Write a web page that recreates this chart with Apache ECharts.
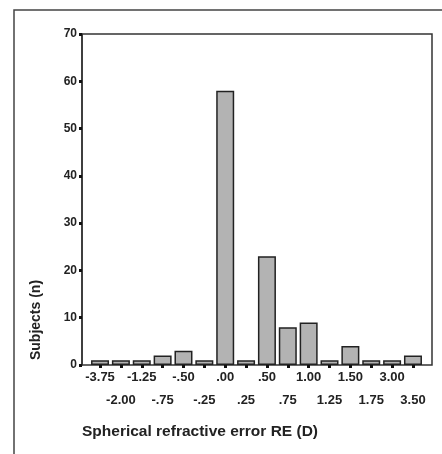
<!DOCTYPE html>
<html>
<head>
<meta charset="utf-8">
<script src="https://cdn.jsdelivr.net/npm/echarts@6/dist/echarts.min.js"></script>
<style>
  html, body { margin: 0; padding: 0; background: #fff; }
  #chart { width: 442px; height: 454px; }
</style>
</head>
<body>
<div id="chart"></div>
<script>
// 屈光度分组与人数
const categories = ['-3.75', '-2.00', '-1.25', '-.75', '-.50', '-.25', '.00', '.25',
  '.50', '.75', '1.00', '1.25', '1.50', '1.75', '3.00', '3.50'];
const subjects = [1, 1, 1, 2, 3, 1, 58, 1, 23, 8, 9, 1, 4, 1, 1, 2];
const yTicks = [0, 10, 20, 30, 40, 50, 60, 70];

const font = 'Liberation Sans, Arial, sans-serif';
const chart = echarts.init(document.getElementById('chart'), null, { renderer: 'canvas' });

const option = {
  animation: false,
  backgroundColor: '#fff',
  grid: [
    // 外框 + y 轴
    { left: 82, right: 10, top: 34, bottom: 89, show: true, borderColor: '#333', borderWidth: 1.5 },
    // 柱子区域（两侧留白）
    { left: 89.6, right: 18.6, top: 34, bottom: 89 }
  ],
  xAxis: [
    { gridIndex: 0, type: 'value', show: false, min: 0, max: 1 },
    {
      gridIndex: 1,
      type: 'category',
      data: categories,
      axisLine: { show: false },
      axisTick: { show: true, alignWithLabel: true, length: 3, lineStyle: { color: '#111', width: 3 } },
      axisLabel: {
        interval: 0,
        margin: 1,
        lineHeight: 23,
        fontFamily: font,
        fontSize: 13,
        fontWeight: 'bold',
        color: '#222',
        formatter: (v, i) => (i % 2 === 1 ? '\n' + v : v)
      }
    }
  ],
  yAxis: [
    {
      gridIndex: 0,
      type: 'value',
      min: yTicks[0],
      max: yTicks[yTicks.length - 1],
      interval: 10,
      splitLine: { show: false },
      axisLine: { show: true, lineStyle: { color: '#333', width: 1.5 } },
      axisTick: { show: true, length: 3, lineStyle: { color: '#111', width: 3 } },
      axisLabel: { margin: 5, fontFamily: font, fontSize: 12, fontWeight: 'bold', color: '#222' }
    },
    { gridIndex: 1, type: 'value', show: false, min: 0, max: 70 }
  ],
  series: [
    {
      type: 'bar',
      xAxisIndex: 1,
      yAxisIndex: 1,
      data: subjects,
      barWidth: 18,
      itemStyle: { color: '#b3b3b3', borderColor: '#222', borderWidth: 1.5 }
    }
  ],
  graphic: [
    {
      type: 'rect',
      shape: { x: 14, y: 10, width: 520, height: 520 },
      style: { fill: null, stroke: '#444', lineWidth: 1.5 },
      silent: true
    },
    {
      type: 'text',
      x: 36,
      y: 320,
      rotation: Math.PI / 2,
      style: {
        text: 'Subjects (n)',
        fontFamily: font,
        fontSize: 14,
        fontWeight: 'bold',
        fill: '#222',
        align: 'center',
        verticalAlign: 'middle'
      }
    },
    {
      type: 'text',
      x: 82,
      y: 432,
      style: {
        text: 'Spherical refractive error RE (D)',
        fontFamily: font,
        fontSize: 15.5,
        fontWeight: 'bold',
        fill: '#222',
        align: 'left',
        verticalAlign: 'middle'
      }
    }
  ]
};

chart.setOption(option);
</script>
</body>
</html>
